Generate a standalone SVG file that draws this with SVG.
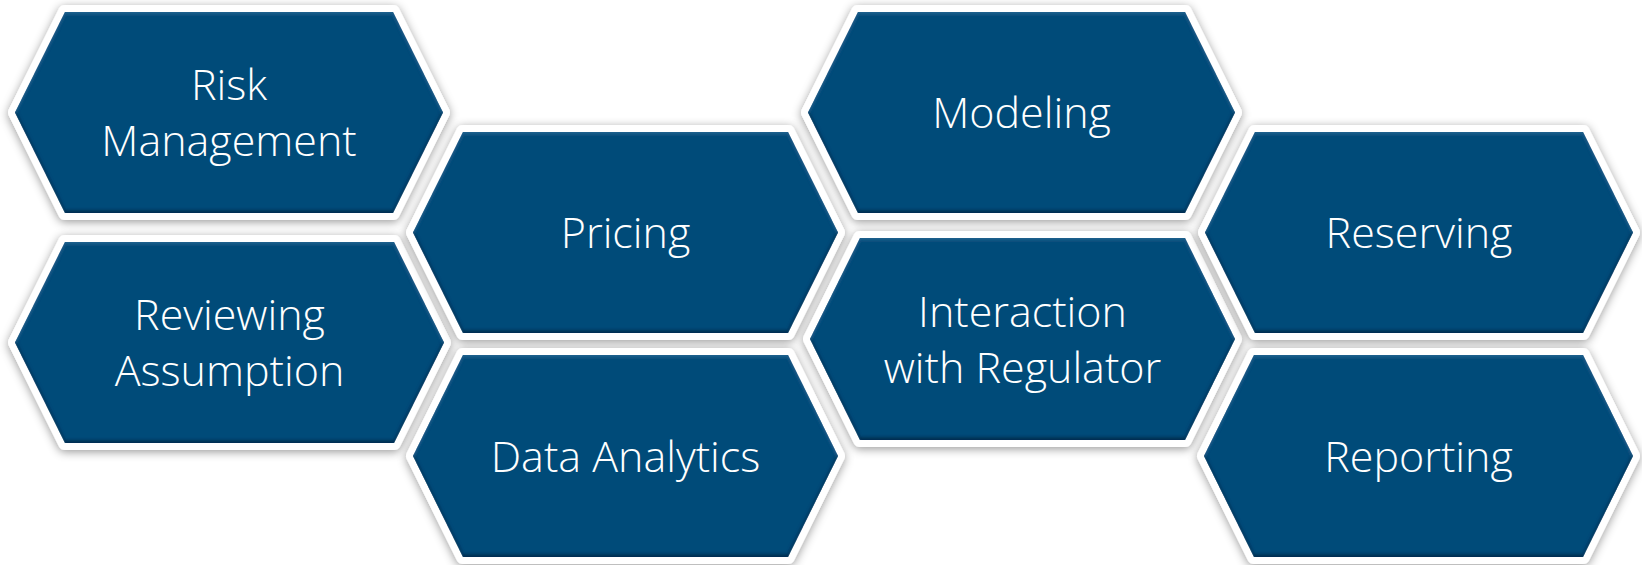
<svg xmlns="http://www.w3.org/2000/svg" width="1642" height="565" viewBox="0 0 1642 565">
  <defs>
    <filter id="shadow" x="-10%" y="-15%" width="120%" height="135%">
      <feGaussianBlur in="SourceAlpha" stdDeviation="5"/>
      <feOffset dx="0" dy="2" result="b"/>
      <feFlood flood-color="#000" flood-opacity="0.4"/>
      <feComposite in2="b" operator="in" result="s"/>
      <feMerge><feMergeNode in="s"/><feMergeNode in="SourceGraphic"/></feMerge>
    </filter>
    <filter id="bevel" x="-5%" y="-5%" width="110%" height="110%">
      <feGaussianBlur in="SourceAlpha" stdDeviation="1.5" result="blur"/>
      <feOffset in="blur" dy="-3" result="up"/>
      <feComposite in="SourceAlpha" in2="up" operator="out" result="bottomEdge"/>
      <feFlood flood-color="#00223d" flood-opacity="0.75"/>
      <feComposite in2="bottomEdge" operator="in" result="dark"/>
      <feOffset in="blur" dy="2" result="down"/>
      <feComposite in="SourceAlpha" in2="down" operator="out" result="topEdge"/>
      <feFlood flood-color="#2a6f9c" flood-opacity="0.6"/>
      <feComposite in2="topEdge" operator="in" result="light"/>
      <feMerge><feMergeNode in="SourceGraphic"/><feMergeNode in="dark"/><feMergeNode in="light"/></feMerge>
    </filter>
  </defs>
  <style>
    .frame { fill: #ffffff; stroke: #ffffff; stroke-width: 14; stroke-linejoin: round; filter: url(#shadow); }
    .hex { fill: #024b79; filter: url(#bevel); }
    .lbl { fill: #ffffff; font-family: "Open Sans", "Liberation Sans", sans-serif; font-weight: 300; font-size: 43px; text-anchor: middle; }
  </style>
  <rect width="1642" height="565" fill="#ffffff"/>
  <g id="connectors"/>

  <g id="node-risk-management">
    <polygon class="frame" points="15,112.5 65,12 393,12 443,112.5 393,213 65,213"/>
    <polygon class="hex" points="15,112.5 65,12 393,12 443,112.5 393,213 65,213"/>
    <text class="lbl" x="229" y="100">Risk</text>
    <text class="lbl" x="229" y="156">Management</text>
  </g>

  <g id="node-reviewing-assumption">
    <polygon class="frame" points="15,342.5 65,242 394,242 444,342.5 394,443 65,443"/>
    <polygon class="hex" points="15,342.5 65,242 394,242 444,342.5 394,443 65,443"/>
    <text class="lbl" x="229.5" y="330">Reviewing</text>
    <text class="lbl" x="229.5" y="386">Assumption</text>
  </g>

  <g id="node-pricing">
    <polygon class="frame" points="413,232.5 463,132 788,132 838,232.5 788,333 463,333"/>
    <polygon class="hex" points="413,232.5 463,132 788,132 838,232.5 788,333 463,333"/>
    <text class="lbl" x="625.5" y="248">Pricing</text>
  </g>

  <g id="node-data-analytics">
    <polygon class="frame" points="413,456 463,355 788,355 838,456 788,557 463,557"/>
    <polygon class="hex" points="413,456 463,355 788,355 838,456 788,557 463,557"/>
    <text class="lbl" x="625.5" y="471.5">Data Analytics</text>
  </g>

  <g id="node-modeling">
    <polygon class="frame" points="808,112.5 858,12 1185,12 1235,112.5 1185,213 858,213"/>
    <polygon class="hex" points="808,112.5 858,12 1185,12 1235,112.5 1185,213 858,213"/>
    <text class="lbl" x="1021.5" y="128">Modeling</text>
  </g>

  <g id="node-interaction-with-regulator">
    <polygon class="frame" points="810,339 860,238 1185,238 1235,339 1185,440 860,440"/>
    <polygon class="hex" points="810,339 860,238 1185,238 1235,339 1185,440 860,440"/>
    <text class="lbl" x="1022.5" y="326.5">Interaction</text>
    <text class="lbl" x="1022.5" y="382.5">with Regulator</text>
  </g>

  <g id="node-reserving">
    <polygon class="frame" points="1205,232.5 1255,132 1583,132 1633,232.5 1583,333 1255,333"/>
    <polygon class="hex" points="1205,232.5 1255,132 1583,132 1633,232.5 1583,333 1255,333"/>
    <text class="lbl" x="1419" y="248">Reserving</text>
  </g>

  <g id="node-reporting">
    <polygon class="frame" points="1204,456 1254,355 1583,355 1633,456 1583,557 1254,557"/>
    <polygon class="hex" points="1204,456 1254,355 1583,355 1633,456 1583,557 1254,557"/>
    <text class="lbl" x="1418.5" y="471.5">Reporting</text>
  </g>
</svg>
